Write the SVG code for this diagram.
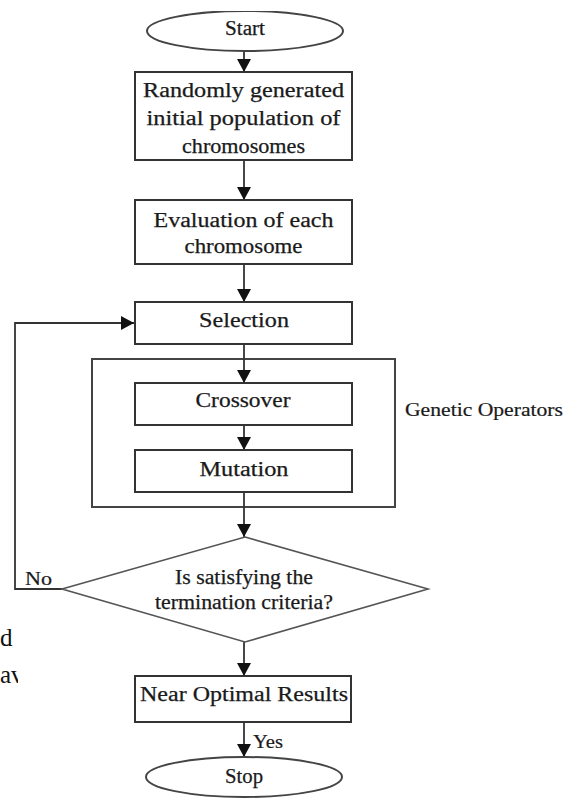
<svg xmlns="http://www.w3.org/2000/svg" width="567" height="798" viewBox="0 0 567 798">
<style>
.box{fill:#fff;stroke:#333;stroke-width:2}
.grp{fill:none;stroke:#444;stroke-width:2}
.ell{fill:#fff;stroke:#444;stroke-width:2}
.t{font-family:"Liberation Serif","Times New Roman",serif;font-size:20px;fill:#1a1a1a;text-anchor:middle;stroke:#1a1a1a;stroke-width:0.25}
.ts{font-family:"Liberation Serif","Times New Roman",serif;font-size:18px;fill:#1a1a1a;stroke:#1a1a1a;stroke-width:0.2}
.big{font-family:"Liberation Serif","Times New Roman",serif;font-size:25px;fill:#111}
.ln{fill:none;stroke:#333;stroke-width:1.8;marker-end:url(#ah)}
</style>
<defs>
<marker id="ah" markerUnits="userSpaceOnUse" markerWidth="16" markerHeight="16" refX="13" refY="7" orient="auto">
<path d="M0,0 L13,7 L0,14 z" fill="#111"/>
</marker>
<clipPath id="topclip"><rect x="0" y="11" width="567" height="60"/></clipPath>
<clipPath id="leftclip"><rect x="0" y="600" width="18" height="100"/></clipPath>
</defs>
<rect width="567" height="798" fill="#fff"/>

<g id="fragments">
<text class="big" x="0" y="646">d</text>
<text class="big" x="0" y="683" clip-path="url(#leftclip)">av</text>
</g>

<g id="genetic-operators">
<rect class="grp" x="92" y="359" width="303" height="148"/>
<text class="ts" x="405" y="416" textLength="158" lengthAdjust="spacingAndGlyphs">Genetic Operators</text>
</g>

<g id="connectors">
<line class="ln" x1="244" y1="51" x2="244" y2="72"/>
<line class="ln" x1="244" y1="160" x2="244" y2="200"/>
<line class="ln" x1="244" y1="264" x2="244" y2="302"/>
<line class="ln" x1="244" y1="344" x2="244" y2="383"/>
<line class="ln" x1="244" y1="425" x2="244" y2="450"/>
<line class="ln" x1="244" y1="492" x2="244" y2="537"/>
<line class="ln" x1="244" y1="642" x2="244" y2="676"/>
<line class="ln" x1="244" y1="722" x2="244" y2="757"/>
<polyline class="ln" points="62,589 15,589 15,323 134,323"/>
<text class="ts" x="25" y="585" textLength="27" lengthAdjust="spacingAndGlyphs">No</text>
<text class="ts" x="253" y="748" textLength="30" lengthAdjust="spacingAndGlyphs">Yes</text>
</g>

<g id="start">
<ellipse class="ell" cx="245" cy="31" rx="98" ry="20" clip-path="url(#topclip)"/>
<text class="t" x="245" y="35" textLength="40" lengthAdjust="spacingAndGlyphs">Start</text>
</g>

<g id="init">
<rect class="box" x="135" y="72" width="217" height="88"/>
<text class="t" x="243.5" y="97" textLength="201" lengthAdjust="spacingAndGlyphs">Randomly generated</text>
<text class="t" x="243.5" y="125" textLength="194" lengthAdjust="spacingAndGlyphs">initial population of</text>
<text class="t" x="243.5" y="153" textLength="123" lengthAdjust="spacingAndGlyphs">chromosomes</text>
</g>

<g id="evaluation">
<rect class="box" x="135" y="200" width="217" height="64"/>
<text class="t" x="243.5" y="227" textLength="180" lengthAdjust="spacingAndGlyphs">Evaluation of each</text>
<text class="t" x="243.5" y="253" textLength="118" lengthAdjust="spacingAndGlyphs">chromosome</text>
</g>

<g id="selection">
<rect class="box" x="135" y="302" width="217" height="42"/>
<text class="t" x="244" y="327" textLength="90" lengthAdjust="spacingAndGlyphs">Selection</text>
</g>

<g id="crossover">
<rect class="box" x="135" y="383" width="217" height="42"/>
<text class="t" x="243" y="407" textLength="95" lengthAdjust="spacingAndGlyphs">Crossover</text>
</g>

<g id="mutation">
<rect class="box" x="135" y="450" width="217" height="42"/>
<text class="t" x="244" y="476" textLength="89" lengthAdjust="spacingAndGlyphs">Mutation</text>
</g>

<g id="decision">
<polygon class="box" points="245,537 428,589 245,642 62,589" style="stroke:#555;stroke-width:1.6"/>
<text class="t" x="244" y="584" textLength="138" lengthAdjust="spacingAndGlyphs">Is satisfying the</text>
<text class="t" x="244" y="609" textLength="178" lengthAdjust="spacingAndGlyphs">termination criteria?</text>
</g>

<g id="near-optimal">
<rect class="box" x="135" y="676" width="216" height="46"/>
<text class="t" x="244" y="701" textLength="208" lengthAdjust="spacingAndGlyphs">Near Optimal Results</text>
</g>

<g id="stop">
<ellipse class="ell" cx="244" cy="777" rx="98" ry="20"/>
<text class="t" x="244" y="783" textLength="38" lengthAdjust="spacingAndGlyphs">Stop</text>
</g>
</svg>
